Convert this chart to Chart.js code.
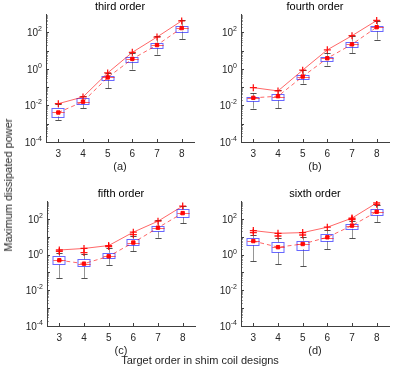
<!DOCTYPE html>
<html>
<head>
<meta charset="utf-8">
<script src="https://cdn.jsdelivr.net/npm/chart.js@4.4.1/dist/chart.umd.min.js"></script>
<style>
  body { margin: 0; background: #fff; }
  #wrap { position: relative; width: 400px; height: 369px; overflow: hidden; font-family: "Liberation Sans", Arial, sans-serif; }
  canvas { position: absolute; }
  .lbl { position: absolute; font-size: 11px; color: #262626; white-space: nowrap; }
</style>
</head>
<body>
<div id="wrap">
  <canvas id="c0" width="200" height="185" style="left:0px;top:0px"></canvas>
  <canvas id="c1" width="200" height="185" style="left:195px;top:0px"></canvas>
  <canvas id="c2" width="200" height="182" style="left:1px;top:187px"></canvas>
  <canvas id="c3" width="200" height="182" style="left:195px;top:187px"></canvas>
  <div class="lbl" id="ylab" style="left:8px;top:185px;transform:translate(-50%,-50%) rotate(-90deg)">Maximum dissipated power</div>
  <div class="lbl" id="xlab" style="left:200px;top:360px;transform:translate(-50%,-50%)">Target order in shim coil designs</div>
</div>
<script>
// ---------------- data ----------------
const orders = [3, 4, 5, 6, 7, 8];
const titles = ['third order', 'fourth order', 'fifth order', 'sixth order'];
const tags = ['(a)', '(b)', '(c)', '(d)'];
const yExps = [-4, -2, 0, 2];

// one row per panel: third, fourth, fifth, sixth order
const whiskerHigh = [
    [0.0125, 0.031, 0.63, 7.4, 59, 480],
    [0.047, 0.067, 0.85, 7.4, 59, 440],
    [1.25, 1.1, 2.4, 11, 81, 520],
    [12, 9, 10, 25, 80, 560]
];
const boxHigh = [
    [0.0076, 0.0244, 0.43, 4.7, 27, 225],
    [0.029, 0.041, 0.46, 4.5, 31, 235],
    [0.8, 0.54, 1.25, 7.6, 39, 340],
    [8.1, 4.8, 6, 14, 52, 350]
];
const medians = [
    [0.0042, 0.016, 0.34, 3.4, 19, 165],
    [0.024, 0.03, 0.37, 3.7, 22, 185],
    [0.47, 0.3, 0.8, 4.6, 31, 205],
    [5.5, 2.5, 3.7, 9, 40, 240]
];
const boxLow = [
    [0.0025, 0.0115, 0.25, 2.5, 14, 110],
    [0.017, 0.019, 0.29, 2.6, 17, 118],
    [0.27, 0.21, 0.65, 3.6, 20, 125],
    [3.4, 1.3, 2.0, 5.7, 28, 160]
];
const whiskerLow = [
    [0.0016, 0.0072, 0.085, 0.91, 6, 43],
    [0.0067, 0.0071, 0.155, 1.5, 7.4, 39],
    [0.049, 0.049, 0.27, 1.5, 8.7, 55],
    [0.43, 0.29, 0.22, 2.0, 8.1, 67]
];
const means = [
    [0.0041, 0.016, 0.34, 3.5, 20, 170],
    [0.026, 0.032, 0.38, 3.8, 22, 190],
    [0.48, 0.31, 0.8, 4.7, 32, 210],
    [5.7, 2.6, 3.9, 9.3, 42, 250]
];
const maxima = [
    [0.0125, 0.029, 0.6, 8.0, 55, 420],
    [0.094, 0.062, 0.85, 11, 65, 440],
    [1.8, 2.2, 3.2, 18, 74, 520],
    [22, 15.5, 17, 34, 110, 780]
];
// extra outlier crosses: [order, value]
const outliers = [
    [],
    [],
    [[3, 1.5], [4, 1.3], [5, 2.8], [6, 13]],
    [[3, 17], [4, 11], [5, 12.5], [7, 90], [7, 100], [8, 650]]
];

const axisColor = '#404040';
const boxBlue = 'rgba(40,40,255,0.7)';
const red = 'rgba(255,0,0,0.6)';

// ---------------- box plot + ticks + titles ----------------
const boxPlugin = {
    id: 'boxes',
    beforeDatasetsDraw(chart, args, opts) {
        const p = opts.panel;
        const ctx = chart.ctx;
        const xs = chart.scales.x, ys = chart.scales.y;
        ctx.save();
        for (let j = 0; j < orders.length; j++) {
            const cx = Math.round(xs.getPixelForValue(orders[j])) + 0.5;
            const hw = xs.getPixelForValue(orders[j] + 0.25) - xs.getPixelForValue(orders[j]);
            const cap = hw / 2;
            const yWh = ys.getPixelForValue(whiskerHigh[p][j]);
            const yQ3 = ys.getPixelForValue(boxHigh[p][j]);
            const yMd = ys.getPixelForValue(medians[p][j]);
            const yQ1 = ys.getPixelForValue(boxLow[p][j]);
            const yWl = ys.getPixelForValue(whiskerLow[p][j]);
            // whiskers
            ctx.strokeStyle = 'rgba(80,80,80,0.6)';
            ctx.lineWidth = 1;
            ctx.beginPath();
            ctx.moveTo(cx, yQ3); ctx.lineTo(cx, yWh);
            ctx.moveTo(cx, yQ1); ctx.lineTo(cx, yWl);
            ctx.stroke();
            ctx.strokeStyle = 'rgba(50,50,50,0.85)';
            ctx.beginPath();
            ctx.moveTo(cx - cap, Math.round(yWh) + 0.5); ctx.lineTo(cx + cap, Math.round(yWh) + 0.5);
            ctx.moveTo(cx - cap, Math.round(yWl) + 0.5); ctx.lineTo(cx + cap, Math.round(yWl) + 0.5);
            ctx.stroke();
            // box
            ctx.strokeStyle = boxBlue;
            ctx.strokeRect(Math.round(cx - hw), Math.round(yQ3) + 0.5, Math.round(2 * hw), Math.round(yQ1 - yQ3));
            // median
            ctx.strokeStyle = red;
            ctx.beginPath();
            ctx.moveTo(cx - hw, Math.round(yMd) + 0.5); ctx.lineTo(cx + hw, Math.round(yMd) + 0.5);
            ctx.stroke();
        }
        ctx.restore();
    },
    afterDraw(chart, args, opts) {
        const p = opts.panel;
        const ctx = chart.ctx;
        const xs = chart.scales.x, ys = chart.scales.y;
        const area = chart.chartArea;
        ctx.save();
        ctx.strokeStyle = axisColor;
        ctx.lineWidth = 1;
        ctx.beginPath();
        // inward y ticks (log minor + major)
        for (let e = -4; e <= 2; e++) {
            for (let k = 1; k <= 9; k++) {
                const v = k * Math.pow(10, e);
                const y = Math.round(ys.getPixelForValue(v)) + 0.5;
                const len = k === 1 ? 3 : 1.5;
                ctx.moveTo(area.left, y); ctx.lineTo(area.left + len, y);
            }
        }
        // inward x ticks
        orders.forEach(o => {
            const x = Math.round(xs.getPixelForValue(o)) + 0.5;
            ctx.moveTo(x, area.bottom); ctx.lineTo(x, area.bottom - 3);
        });
        ctx.stroke();
        // y tick labels: 10 with superscript exponent
        ctx.fillStyle = '#262626';
        ctx.textBaseline = 'middle';
        yExps.forEach(e => {
            const y = ys.getPixelForValue(Math.pow(10, e));
            const expTxt = e < 0 ? '-' + (-e) : String(e);
            ctx.font = '7px "Liberation Sans", Arial, sans-serif';
            const we = ctx.measureText(expTxt).width;
            ctx.font = '10px "Liberation Sans", Arial, sans-serif';
            const wb = ctx.measureText('10').width;
            const right = area.left - 4;
            ctx.textAlign = 'left';
            ctx.fillText('10', right - we - wb, y + 1);
            ctx.font = '7px "Liberation Sans", Arial, sans-serif';
            ctx.fillText(expTxt, right - we, y - 3);
        });
        // panel title
        ctx.font = '11px "Liberation Sans", Arial, sans-serif';
        ctx.fillStyle = '#000';
        ctx.textAlign = 'center';
        ctx.fillText(titles[p], (area.left + area.right) / 2, 7);
        ctx.restore();
    }
};

function makePanel(p) {
    const maxPts = orders.map((o, j) => ({ x: o, y: maxima[p][j] }));
    const meanPts = orders.map((o, j) => ({ x: o, y: means[p][j] }));
    const outPts = outliers[p].map(d => ({ x: d[0], y: d[1] }));
    new Chart(document.getElementById('c' + p), {
        type: 'line',
        data: {
            datasets: [
                {
                    label: 'max', data: maxPts, borderColor: red, borderWidth: 1,
                    pointStyle: 'cross', pointRadius: 3.5, pointBorderColor: 'rgba(255,0,0,0.9)',
                    pointBorderWidth: 1.3, fill: false, tension: 0
                },
                {
                    label: 'outliers', data: outPts, showLine: false,
                    pointStyle: 'cross', pointRadius: 3.5, pointBorderColor: 'rgba(255,0,0,0.9)',
                    pointBorderWidth: 1.3
                },
                {
                    label: 'mean', data: meanPts, borderColor: red, borderWidth: 1, borderDash: [4, 3],
                    pointStyle: 'rect', pointRadius: 2.4, pointBackgroundColor: 'rgba(255,0,0,0.95)',
                    pointBorderColor: 'rgba(255,0,0,0.95)', pointBorderWidth: 1, fill: false, tension: 0
                }
            ]
        },
        options: {
            responsive: false,
            animation: false,
            devicePixelRatio: 1,
            layout: { padding: { left: 0, right: 6, top: 14, bottom: 0 } },
            plugins: {
                legend: { display: false },
                tooltip: { enabled: false },
                boxes: { panel: p }
            },
            scales: {
                x: {
                    type: 'linear', min: 2.5, max: 8.5,
                    afterBuildTicks: s => { s.ticks = orders.map(v => ({ value: v })); },
                    afterFit: s => { s.height = 43; },
                    grid: { drawOnChartArea: false, drawTicks: false },
                    border: { color: axisColor, width: 1 },
                    ticks: { padding: 6, color: '#262626', font: { size: 10 } },
                    title: { display: true, text: tags[p], color: '#262626', font: { size: 11 }, padding: { top: 0, bottom: 11 } }
                },
                y: {
                    type: 'logarithmic', min: 1e-4, max: 1e3,
                    afterBuildTicks: s => { s.ticks = yExps.map(e => ({ value: Math.pow(10, e) })); },
                    afterFit: s => { s.width = 46; },
                    grid: { drawOnChartArea: false, drawTicks: false },
                    border: { color: axisColor, width: 1 },
                    ticks: { display: false }
                }
            }
        },
        plugins: [boxPlugin]
    });
}

Chart.defaults.font.family = '"Liberation Sans", Arial, sans-serif';
for (let p = 0; p < 4; p++) makePanel(p);
</script>
</body>
</html>
